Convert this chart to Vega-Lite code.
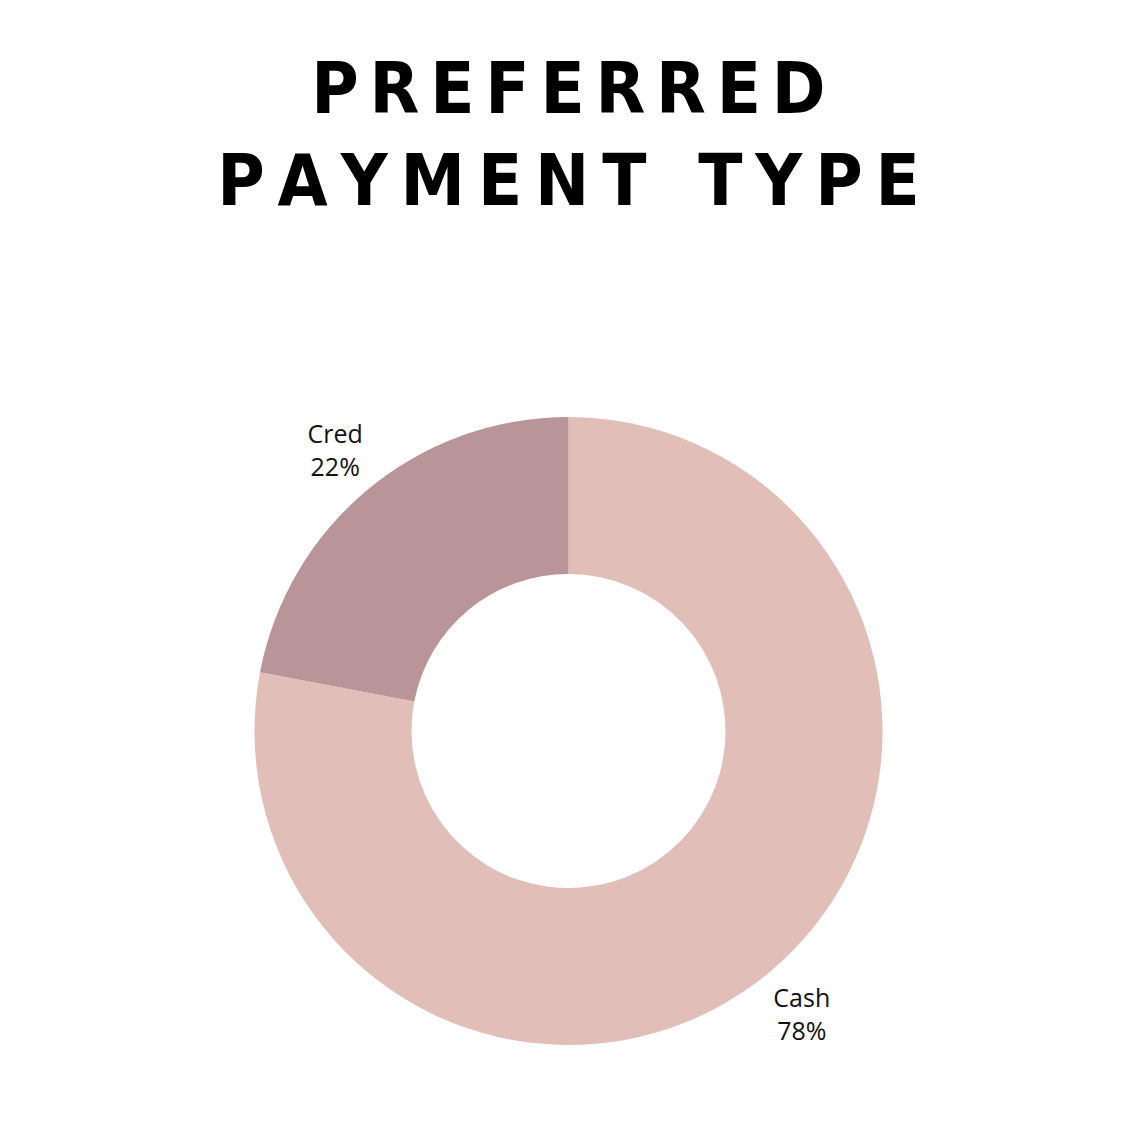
{
  "$schema": "https://vega.github.io/schema/vega-lite/v6.json",
  "width": 1137,
  "height": 812,
  "autosize": {"type": "none"},
  "padding": {"top": 325, "left": 0, "right": 0, "bottom": 0},
  "background": "white",
  "title": {
    "text": ["P\u2006R\u2006E\u2006F\u2006E\u2006R\u2006R\u2006E\u2006D", "P\u2009A\u2009Y\u2009M\u2009E\u2009N\u2009T\u2009\u2009\u2009\u2009T\u2009Y\u2009P\u2009E"],
    "font": "Liberation Sans Narrow, DejaVu Sans Condensed, Liberation Sans",
    "fontSize": 72,
    "fontWeight": "bold",
    "color": "#000000",
    "lineHeight": 92,
    "anchor": "middle",
    "frame": "group",
    "offset": 105
  },
  "data": {
    "values": [
      {"type": "Cash", "share": 0.78},
      {"type": "Cred", "share": 0.22}
    ]
  },
  "encoding": {
    "theta": {"field": "share", "type": "quantitative", "stack": true},
    "order": {"field": "type", "type": "nominal"},
    "color": {
      "field": "type",
      "type": "nominal",
      "scale": {"domain": ["Cash", "Cred"], "range": ["#E2BEB9", "#B9959A"]},
      "legend": null
    }
  },
  "view": {"stroke": null},
  "layer": [
    {
      "mark": {"type": "arc", "outerRadius": 314, "innerRadius": 157}
    },
    {
      "mark": {"type": "text", "radius": 366, "dy": -14, "fontSize": 25, "font": "Open Sans"},
      "encoding": {
        "text": {"field": "type", "type": "nominal"},
        "detail": {"field": "type", "type": "nominal"},
        "color": {"value": "#111111"}
      }
    },
    {
      "mark": {"type": "text", "radius": 366, "dy": 19, "fontSize": 25, "font": "Open Sans"},
      "encoding": {
        "text": {"field": "share", "type": "quantitative", "format": ".0%"},
        "detail": {"field": "type", "type": "nominal"},
        "color": {"value": "#111111"}
      }
    }
  ]
}
